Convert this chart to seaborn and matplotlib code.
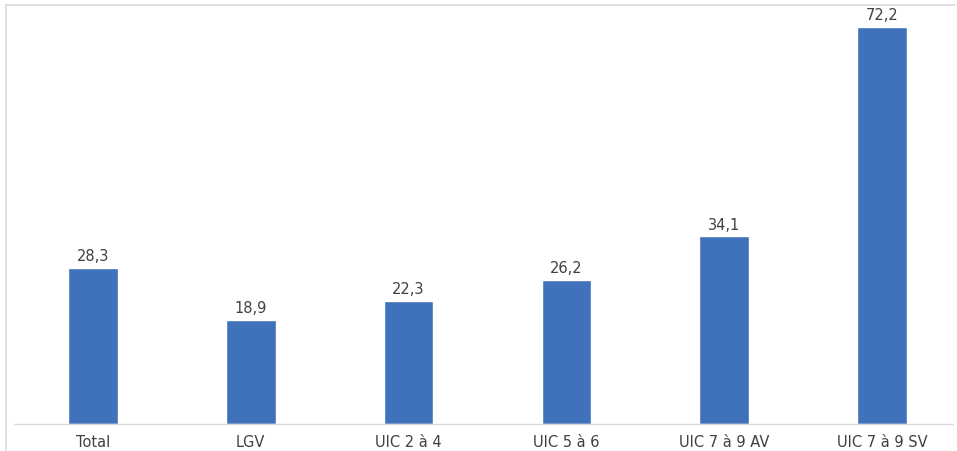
import matplotlib
matplotlib.use("Agg")
import matplotlib.pyplot as plt
import seaborn as sns
import pandas as pd
from matplotlib.lines import Line2D

categories = ["Total", "LGV", "UIC 2 à 4", "UIC 5 à 6", "UIC 7 à 9 AV", "UIC 7 à 9 SV"]
values = [28.3, 18.9, 22.3, 26.2, 34.1, 72.2]
value_labels = ["28,3", "18,9", "22,3", "26,2", "34,1", "72,2"]

df = pd.DataFrame({"categorie": categories, "valeur": values})

sns.set_style("white")
plt.rcParams["font.family"] = ["DejaVu Sans"]

W, H = 957, 452
fig = plt.figure(figsize=(W / 100, H / 100), dpi=100)
ax = fig.add_axes([14 / W, (H - 425) / H, 947 / W, 425 / H])
ax.set_facecolor("none")

sns.barplot(data=df, x="categorie", y="valeur", color="#3F72BA",
            width=0.315, saturation=1, ax=ax)

ax.set_ylim(0, 425 / 5.5)
ax.set_xlim(-0.5, len(categories) - 0.5)
ax.set_xlabel("")
ax.set_ylabel("")
ax.set_yticks([])
for s in ["top", "left", "right"]:
    ax.spines[s].set_visible(False)
ax.spines["bottom"].set_color("#D9D9D9")
ax.spines["bottom"].set_linewidth(1)
ax.spines["bottom"].set_bounds(-0.5, 5.45)
ax.tick_params(axis="x", length=0, pad=7, labelsize=10.5, labelcolor="#404040")

for i, (v, lab) in enumerate(zip(values, value_labels)):
    ax.annotate(lab, (i, v), xytext=(0, 3.5), textcoords="offset points",
                ha="center", va="bottom", fontsize=10.5, color="#404040")

# light frame lines (top and left) around the chart area
fx = 5.5 / W
fy = 1 - 5.5 / H
fig.add_artist(Line2D([fx, 955 / W], [fy, fy], transform=fig.transFigure,
                      color="#D9D9D9", linewidth=1.2))
fig.add_artist(Line2D([fx, fx], [0, fy], transform=fig.transFigure,
                      color="#D9D9D9", linewidth=1.2))

fig.savefig("out.png", dpi=100, facecolor="white")
